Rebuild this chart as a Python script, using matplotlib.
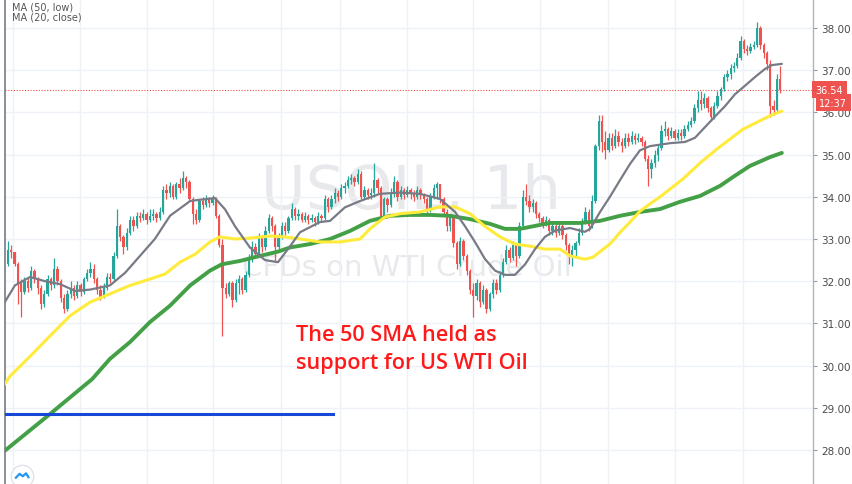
import numpy as np
import matplotlib
matplotlib.use("Agg")
import matplotlib.pyplot as plt
from matplotlib.transforms import blended_transform_factory

# USOIL 1h candles, open = previous close
first_open = 32.40
closes = [
    32.75, 32.68, 32.40, 31.95, 31.75, 32.00, 31.85, 32.25, 32.05, 31.85,
    31.45, 31.70, 32.05, 31.90, 32.30, 32.00, 31.60, 31.35, 31.70, 31.85,
    31.65, 31.90, 31.75, 32.05, 32.20, 32.30, 32.05, 31.80, 31.62, 31.85,
    32.10, 32.05, 32.60, 33.30, 33.05, 32.80, 33.15, 33.45, 33.30, 33.55,
    33.50, 33.60, 33.45, 33.55, 33.60, 33.50, 33.65, 34.15, 34.10, 34.25,
    34.00, 34.30, 34.20, 34.45, 34.35, 33.95, 33.60, 33.45, 33.90, 33.80,
    33.95, 33.85, 33.95, 33.55, 32.85, 31.85, 31.70, 31.95, 31.55, 31.95,
    32.05, 31.80, 32.15, 32.55, 32.80, 32.65, 33.05, 32.80, 33.20, 33.50,
    33.30, 32.80, 33.05, 33.30, 33.20, 33.50, 33.70, 33.55, 33.60, 33.45,
    33.55, 33.45, 33.50, 33.40, 33.55, 33.50, 33.95, 33.75, 33.95, 34.10,
    34.00, 34.20, 34.25, 34.40, 34.45, 34.35, 34.55, 34.00, 34.15, 34.05,
    34.10, 34.40, 34.20, 33.55, 33.95, 33.80, 34.10, 34.35, 34.00, 34.15,
    34.05, 34.15, 34.10, 34.00, 34.15, 34.05, 33.95, 33.70, 34.00, 34.20,
    34.30, 33.95, 33.65, 33.30, 33.55, 32.90, 32.40, 32.95, 32.60, 32.25,
    31.80, 31.65, 31.95, 31.50, 31.80, 31.35, 31.70, 31.95, 31.80, 32.15,
    32.45, 32.75, 32.55, 32.85, 32.60, 33.30, 34.00, 33.90, 33.75, 33.85,
    33.60, 33.50, 33.35, 33.45, 33.20, 33.30, 33.15, 33.30, 33.10, 32.85,
    32.60, 32.75, 32.90, 33.15, 33.40, 33.65, 33.30, 33.90, 35.20, 35.80,
    35.30, 35.10, 35.40, 35.20, 35.45, 35.30, 35.20, 35.40, 35.30, 35.45,
    35.35, 35.40, 35.30, 34.90, 34.65, 34.80, 35.00, 35.15, 35.55, 35.60,
    35.45, 35.55, 35.40, 35.50, 35.45, 35.60, 35.70, 35.80, 36.10, 36.30,
    36.20, 36.35, 36.10, 35.90, 36.15, 36.40, 36.55, 36.85, 36.90, 37.05,
    37.10, 37.30, 37.70, 37.50, 37.45, 37.55, 37.60, 38.00, 37.60, 37.40,
    37.15, 36.15, 36.05, 36.80, 36.54,
]
highs = [
    32.95, 32.85, 32.70, 32.45, 32.05, 32.10, 32.10, 32.35, 32.30, 32.10,
    31.90, 31.80, 32.15, 32.10, 32.55, 32.35, 32.05, 31.70, 31.80, 32.00,
    31.90, 32.00, 31.95, 32.10, 32.30, 32.45, 32.40, 32.10, 31.90, 31.95,
    32.20, 32.20, 32.70, 33.70, 33.35, 33.10, 33.25, 33.55, 33.55, 33.65,
    33.65, 33.70, 33.65, 33.70, 33.70, 33.65, 33.75, 34.25, 34.30, 34.35,
    34.30, 34.35, 34.45, 34.62, 34.50, 34.40, 34.00, 33.70, 33.95, 34.00,
    34.05, 34.00, 34.05, 34.00, 33.60, 33.00, 31.95, 32.00, 32.00, 32.05,
    32.15, 32.10, 32.25, 32.65, 32.95, 32.90, 33.15, 33.10, 33.30, 33.60,
    33.55, 33.35, 33.15, 33.40, 33.40, 33.55, 33.85, 33.75, 33.70, 33.65,
    33.65, 33.60, 33.60, 33.55, 33.65, 33.60, 34.05, 34.00, 34.05, 34.20,
    34.15, 34.30, 34.35, 34.50, 34.55, 34.50, 34.65, 34.60, 34.25, 34.20,
    34.20, 34.80, 34.45, 34.25, 34.00, 34.00, 34.20, 34.50, 34.40, 34.25,
    34.20, 34.25, 34.20, 34.15, 34.25, 34.20, 34.10, 34.00, 34.10, 34.30,
    34.35, 34.30, 34.00, 33.70, 33.60, 33.55, 32.95, 33.05, 33.00, 32.65,
    32.30, 31.95, 32.05, 32.00, 31.90, 31.85, 31.75, 32.05, 32.05, 32.25,
    32.55, 32.85, 32.80, 32.95, 32.90, 33.40, 34.15, 34.30, 34.05, 33.95,
    33.90, 33.65, 33.55, 33.55, 33.50, 33.40, 33.35, 33.40, 33.35, 33.15,
    32.90, 32.85, 32.95, 33.25, 33.50, 33.75, 33.70, 34.05, 35.25, 35.95,
    35.95, 35.55, 35.50, 35.50, 35.60, 35.55, 35.40, 35.50, 35.50, 35.55,
    35.50, 35.50, 35.45, 35.35, 35.00, 34.90, 35.10, 35.25, 35.70, 35.80,
    35.65, 35.65, 35.60, 35.60, 35.60, 35.70, 35.80, 35.90, 36.20, 36.50,
    36.50, 36.45, 36.40, 36.15, 36.25, 36.50, 36.60, 36.90, 37.00, 37.15,
    37.20, 37.40, 37.80, 37.75, 37.60, 37.65, 37.70, 38.15, 38.05, 37.65,
    37.45, 37.25, 36.30, 36.90, 37.10,
]
lows = [
    32.35, 32.55, 32.35, 31.45, 31.15, 31.70, 31.75, 31.80, 31.95, 31.70,
    31.35, 31.40, 31.65, 31.80, 31.85, 31.90, 31.50, 31.25, 31.30, 31.60,
    31.55, 31.60, 31.65, 31.70, 32.00, 32.10, 31.95, 31.70, 31.55, 31.60,
    31.80, 31.95, 32.00, 32.55, 32.95, 32.65, 32.75, 33.10, 33.20, 33.25,
    33.40, 33.45, 33.35, 33.40, 33.45, 33.40, 33.45, 33.60, 33.95, 34.00,
    33.95, 33.95, 34.10, 34.15, 34.20, 33.90, 33.35, 33.35, 33.40, 33.70,
    33.75, 33.75, 33.80, 33.50, 32.80, 30.70, 31.60, 31.65, 31.40, 31.50,
    31.70, 31.70, 31.75, 32.10, 32.45, 32.55, 32.60, 32.70, 32.75, 33.15,
    33.20, 32.45, 32.75, 33.00, 33.10, 33.15, 33.45, 33.45, 33.45, 33.40,
    33.40, 33.35, 33.40, 33.30, 33.35, 33.40, 33.45, 33.65, 33.70, 33.85,
    33.90, 33.95, 34.10, 34.20, 34.30, 34.25, 34.30, 33.95, 33.95, 33.95,
    33.95, 34.00, 34.10, 33.50, 33.50, 33.65, 33.75, 34.00, 33.90, 33.95,
    33.95, 34.00, 33.95, 33.90, 33.95, 33.95, 33.85, 33.60, 33.65, 33.95,
    33.95, 33.85, 33.55, 33.20, 33.20, 32.80, 32.30, 32.35, 32.50, 32.15,
    31.70, 31.15, 31.55, 31.40, 31.45, 31.25, 31.30, 31.60, 31.70, 31.75,
    32.10, 32.40, 32.45, 32.50, 32.35, 32.55, 33.25, 33.80, 33.65, 33.65,
    33.50, 33.40, 33.25, 33.30, 33.10, 33.10, 33.05, 33.10, 33.00, 32.75,
    32.40, 32.35, 32.60, 32.85, 33.10, 33.35, 33.20, 33.25, 33.85, 35.10,
    35.05, 34.90, 35.05, 35.10, 35.15, 35.20, 35.05, 35.15, 35.20, 35.25,
    35.25, 35.30, 35.20, 34.85, 34.25, 34.45, 34.70, 34.85, 35.10, 35.45,
    35.35, 35.40, 35.35, 35.35, 35.35, 35.40, 35.55, 35.65, 35.75, 36.00,
    36.05, 36.10, 36.00, 35.80, 35.85, 36.10, 36.30, 36.50, 36.75, 36.80,
    36.95, 37.05, 37.25, 37.40, 37.35, 37.40, 37.50, 37.55, 37.50, 37.30,
    37.00, 35.90, 35.95, 36.00, 36.45,
]

# moving averages, read at candle positions
ma20_idx = [-1, 2.1, 6.7, 11.2, 15.8, 20.3, 24.8, 30.9, 35.5, 40, 44.5, 49.1, 55.2, 58.2,
            62.7, 65.8, 68.8, 73.3, 77.9, 81.8, 85.5, 88.5, 94.5, 97.6, 102.1, 106.7,
            112.7, 118.8, 124.8, 130.9, 135.5, 138.5, 141.5, 144.5, 147.6, 150.6, 153.6,
            156.7, 159.7, 162.7, 165.8, 170.3, 174.8, 176.4, 179.4, 182.4, 185.5, 188.5,
            191.5, 194.5, 200.6, 205.2, 208.2, 211.2, 214.2, 217.3, 220.3, 223.3, 226.4,
            229.4, 231.5, 234.5]
ma20 = [31.50, 31.90, 32.10, 32.00, 31.93, 31.77, 31.80, 31.90, 32.20, 32.60, 33.00, 33.55,
        33.90, 33.93, 33.97, 33.70, 33.30, 32.80, 32.50, 32.45, 32.83, 33.16, 33.40, 33.43,
        33.75, 33.90, 34.07, 34.10, 34.07, 33.95, 33.64, 33.30, 32.93, 32.53, 32.25, 32.15,
        32.15, 32.40, 32.76, 33.05, 33.20, 33.26, 33.17, 33.24, 33.64, 34.00, 34.40, 34.78,
        35.10, 35.20, 35.27, 35.30, 35.40, 35.65, 35.90, 36.15, 36.43, 36.63, 36.84, 37.03,
        37.12, 37.15]

ma50_idx = [-1, 0.6, 6.7, 12.7, 18.8, 24.8, 30.9, 37, 43, 47.6, 52.1, 56.7, 61.2, 64.2, 68.8,
            73.3, 79.4, 83.9, 88.5, 94.5, 100.6, 106.7, 109.7, 114.2, 118.8, 124.8, 130.9,
            135.5, 140, 144.5, 149.1, 153.6, 158.2, 162.7, 167.3, 170.3, 174.8, 177.3, 179.4,
            182.4, 185.5, 188.5, 191.5, 194.5, 197.6, 204.5, 209.7, 214.8, 222.7, 230.9, 234.5]
ma50 = [29.56, 29.75, 30.22, 30.70, 31.18, 31.50, 31.70, 31.90, 32.05, 32.17, 32.45, 32.64,
        32.93, 33.05, 33.00, 33.02, 33.07, 33.05, 33.00, 32.93, 32.93, 33.00, 33.24, 33.52,
        33.60, 33.64, 33.76, 33.76, 33.60, 33.30, 33.05, 32.88, 32.83, 32.76, 32.76, 32.60,
        32.52, 32.57, 32.70, 32.88, 33.16, 33.40, 33.66, 33.83, 34.00, 34.42, 34.80, 35.13,
        35.60, 35.92, 36.03]

ma100_idx = [-1, 12.7, 25.5, 30.9, 37, 43, 49.1, 55.2, 61.2, 64.8, 70.3, 76.4, 81.8, 85.5,
             91.5, 97.6, 103.6, 109.7, 115.8, 121.8, 127.9, 133.9, 140, 146, 150.6, 155.2,
             159.7, 164.2, 173.3, 179.4, 185.5, 191.5, 197.6, 203.6, 209.7, 215.8, 220.3,
             224.8, 230.9, 234.5]
ma100 = [27.98, 28.85, 29.68, 30.16, 30.56, 31.03, 31.42, 31.90, 32.25, 32.40, 32.48, 32.60,
         32.70, 32.80, 32.88, 33.00, 33.19, 33.43, 33.55, 33.57, 33.57, 33.55, 33.47, 33.36,
         33.24, 33.24, 33.31, 33.38, 33.38, 33.43, 33.55, 33.64, 33.71, 33.88, 34.02, 34.26,
         34.50, 34.73, 34.94, 35.04]

support_level = 28.85
support_end_idx = 98.5
last_price = 36.54
countdown = "12:37"
price_ticks = [28, 29, 30, 31, 32, 33, 34, 35, 36, 37, 38]
time_grid_idx = [1.5, 21.8, 42.1, 62.1, 82.7, 100.6, 120.9, 140.9, 161.2, 181.8, 202.1, 222.7]

UP = "#26a69a"
DOWN = "#ef5350"

fig = plt.figure(figsize=(8.52, 4.85), dpi=100)
ax = fig.add_axes([5 / 852, 0, 808 / 852, 1])
ax.set_xlim(-0.909, 243.94)
ax.set_ylim(27.194, 38.687)

# grid
ax.set_xticks(time_grid_idx)
ax.set_yticks(price_ticks)
ax.grid(True, color="#eef1f6", linewidth=1.0, zorder=0)
ax.tick_params(axis="x", length=0, labelbottom=False)
ax.yaxis.tick_right()
ax.set_yticklabels(["%.2f" % p for p in price_ticks])
ax.tick_params(axis="y", length=3, width=0.8, color="#9598a1", labelsize=7.5,
               labelcolor="#4a4a4a", pad=3)
for s in ["top", "bottom"]:
    ax.spines[s].set_visible(False)
ax.spines["left"].set_color("#787b86")
ax.spines["left"].set_linewidth(1.2)
ax.spines["right"].set_color("#b2b5be")
ax.spines["right"].set_linewidth(1.0)

# watermark
ax.text(0.503, 0.604, "USOIL, 1h", transform=ax.transAxes, ha="center", va="center",
        fontsize=44, color="#e8e9ec", zorder=0.5)
ax.text(0.497, 0.447, "CFDs on WTI Crude Oil", transform=ax.transAxes, ha="center",
        va="center", fontsize=21, color="#e8e9ec", zorder=0.5)

# candles
c = np.array(closes)
o = np.concatenate([[first_open], c[:-1]])
h = np.maximum(np.array(highs), np.maximum(o, c))
l = np.minimum(np.array(lows), np.minimum(o, c))
idx = np.arange(len(c))
cols = np.where(c >= o, UP, DOWN)
ax.vlines(idx, l, h, colors=cols, linewidth=0.9, zorder=3)
body = np.maximum(np.abs(c - o), 0.02)
ax.bar(idx, body, bottom=np.minimum(o, c), width=0.7, color=cols, linewidth=0, zorder=3)

# moving averages
ax.plot(ma100_idx, ma100, color="#43a047", linewidth=2.8, zorder=4, solid_capstyle="round")
ax.plot(ma50_idx, ma50, color="#ffeb3b", linewidth=2.2, zorder=4, solid_capstyle="round")
ax.plot(ma20_idx, ma20, color="#787b86", linewidth=1.6, zorder=4, solid_capstyle="round")

# support line drawn on chart
ax.plot([-0.909, support_end_idx], [support_level, support_level], color="#1848d8",
        linewidth=2.2, zorder=4)

# last price line and labels
ax.axhline(last_price, color=DOWN, linestyle=(0, (1, 1.5)), linewidth=0.8, zorder=2)
tr = blended_transform_factory(ax.transAxes, ax.transData)
ax.annotate("%.2f" % last_price, xy=(1.0, last_price), xycoords=tr,
            xytext=(2, 0), textcoords="offset points", ha="left", va="center",
            fontsize=7, color="white", annotation_clip=False, zorder=6,
            bbox=dict(boxstyle="square,pad=0.35", fc=DOWN, ec="none"))
ax.annotate(countdown, xy=(1.0, last_price), xycoords=tr,
            xytext=(4.5, -9.5), textcoords="offset points", ha="left", va="center",
            fontsize=7, color="white", annotation_clip=False, zorder=6,
            bbox=dict(boxstyle="square,pad=0.35", fc=DOWN, ec="none"))

# legend labels top-left
fig.text(12 / 852, 1 - 7 / 485, "MA (50, low)", fontsize=7, color="#555555", va="center")
fig.text(12 / 852, 1 - 18 / 485, "MA (20, close)", fontsize=7, color="#555555", va="center")

# annotation
fig.text(296 / 852, 1 - 325 / 485, "The 50 SMA held as\nsupport for US WTI Oil",
         fontsize=15.6, color="#ff1a1a", va="top", ha="left", linespacing=1.42,
         family=["Open Sans", "DejaVu Sans"], weight="semibold")

# tradingview logo badge
ax.scatter([0.021], [0.016], s=260, transform=ax.transAxes, facecolor="white",
           edgecolor="#e0e3eb", linewidth=1.0, zorder=7, clip_on=False)
ax.plot([0.0135, 0.018, 0.022, 0.026, 0.029], [0.013, 0.021, 0.016, 0.022, 0.014],
        transform=ax.transAxes, color="#2196f3", linewidth=1.6, zorder=8, clip_on=False)

fig.savefig("out.png", dpi=100)
